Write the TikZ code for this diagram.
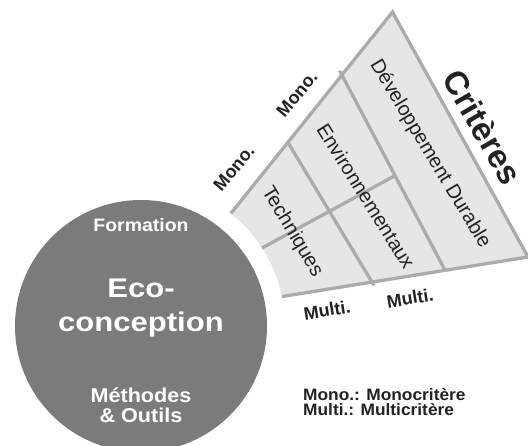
\documentclass[tikz,border=0pt]{standalone}
\usepackage{fontspec}
\setmainfont{Liberation Sans}
\usetikzlibrary{calc}
\definecolor{discgray}{HTML}{7B7B7B}
\definecolor{fanfill}{HTML}{E6E6E6}
\definecolor{fanline}{HTML}{ABABAB}
\definecolor{txt}{HTML}{222222}
\begin{document}
\begin{tikzpicture}[x=1pt,y=1pt,
  fanedge/.style={draw=fanline, line width=3.3pt, line join=miter},
  fanlabel/.style={text=txt, inner sep=0pt, font=\fontsize{20}{24}\selectfont},
  edgelabel/.style={text=txt, inner sep=0pt, font=\bfseries\fontsize{18}{20}\selectfont},
  disclabel/.style={text=white, inner sep=0pt, anchor=base},
  legendline/.style={text=txt, inner sep=0pt, anchor=base west, font=\bfseries\fontsize{16.5}{18}\selectfont, xscale=1.05}]
\useasboundingbox (0,0) rectangle (528,445);
% disc
\coordinate (O) at (141,119);
\node[circle, fill=discgray, minimum size=252pt, inner sep=0pt] (disc) at (O) {};
% fan corners
\coordinate (A) at ($(O)+(51.4:144pt)$);
\coordinate (D) at ($(O)+(11.8:144pt)$);
\coordinate (B) at (392.5,433);
\coordinate (C) at (528,188);
\path[fill=fanfill] (A) -- (B) -- (C) -- (D) arc[start angle=11.8, end angle=51.4, radius=144pt] -- cycle;
% inner lines
\coordinate (L1t) at ($(A)!0.353!(B)$);
\coordinate (L1b) at ($(D)!0.366!(C)$);
\coordinate (L2t) at ($(A)!0.687!(B)$);
\coordinate (L2b) at ($(D)!0.663!(C)$);
\coordinate (L3a) at ($(O)+(32.8:144pt)$);
\coordinate (L3b) at ($(L2t)!0.515!(L2b)$);
\draw[fanedge, shorten >=-4pt] (L1t) -- (L1b);
\draw[fanedge, shorten >=-5pt] (L2b) -- (L2t);
\draw[fanedge] (L3a) -- (L3b);
\draw[fanedge] (A) -- (B) -- (C) -- (D);
% fan labels
\node[fanlabel, rotate=-59] (tech) at (292,213) {Techniques};
\node[fanlabel, rotate=-58] (env) at (366,249) {Environnementaux};
\node[fanlabel, rotate=-59] (dd) at (430,291) {Développement Durable};
\node[text=txt, inner sep=0pt, font=\bfseries\fontsize{33}{40}\selectfont, rotate=-60] (crit) at (483,318) {Critères};
\node[edgelabel, rotate=50] (mono1) at (234,277) {Mono.};
\node[edgelabel, rotate=50] (mono2) at (297,351) {Mono.};
\node[edgelabel, rotate=9] (multi1) at (327,135) {Multi.};
\node[edgelabel, rotate=9] (multi2) at (410,147) {Multi.};
% disc labels
\node[disclabel, font=\bfseries\fontsize{18}{20}\selectfont, xscale=1.08] (form) at (141,213) {Formation};
\node[disclabel, font=\bfseries\fontsize{27}{30}\selectfont, xscale=1.15] (eco) at (141,147) {Eco-};
\node[disclabel, font=\bfseries\fontsize{27}{30}\selectfont, xscale=1.15] (conc) at (141,113) {conception};
\node[disclabel, font=\bfseries\fontsize{20}{22}\selectfont, xscale=1.08] (meth) at (141,42) {Méthodes};
\node[disclabel, font=\bfseries\fontsize{20}{22}\selectfont, xscale=1.08] (outils) at (141,23) {\& Outils};
% legend
\node[legendline] (leg1) at (303,45) {Mono.: Monocritère};
\node[legendline] (leg2) at (303,30) {Multi.: Multicritère};
\end{tikzpicture}
\end{document}
